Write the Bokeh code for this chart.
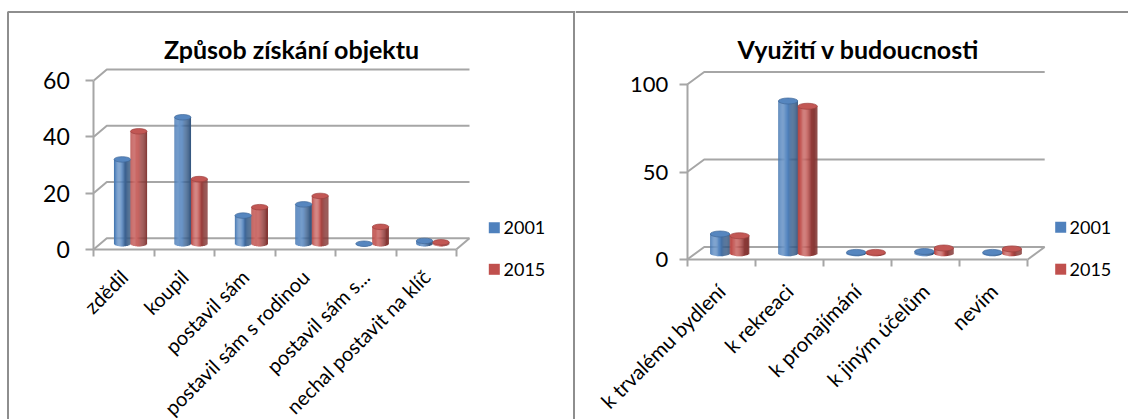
import math
import numpy as np
from bokeh.plotting import figure
from bokeh.layouts import row
from bokeh.models import LinearAxis, FixedTicker, Range1d, ColumnDataSource
from bokeh.core.properties import value
from bokeh.embed import file_html
from bokeh.resources import INLINE

# ---- data -------------------------------------------------------------
series_names = ["2001", "2015"]
series_colors = ["#4F81BD", "#C0504D"]

acq_title = "Způsob získání objektu"
acq_categories = ["zdědil", "koupil", "postavil sám", "postavil sám s rodinou",
                  "postavil sám s...", "nechal postavit na klíč"]
acq_2001 = [30, 45, 10, 14, 0, 1]
acq_2015 = [40, 23, 13, 17, 6, 0.5]
acq_ticks = [0, 20, 40, 60]

use_title = "Využití v budoucnosti"
use_categories = ["k trvalému bydlení", "k rekreaci", "k pronajímání",
                  "k jiným účelům", "nevím"]
use_2001 = [11, 87, 0.5, 1, 0.5]
use_2015 = [10, 84, 0.5, 3, 2.5]
use_ticks = [0, 50, 100]

# ---- styling ----------------------------------------------------------
FONT = "Lato"
H = 419
GRID = "#A6A6A6"
FRAME = "#8E8E8E"


def to_rgb(h):
    h = h.lstrip("#")
    return np.array([int(h[i:i + 2], 16) for i in (0, 2, 4)], dtype=float)


def shade(h, k):
    c = to_rgb(h)
    if k < 1:
        c = c * k
    else:
        c = c + (255 - c) * (k - 1)
    c = np.clip(c, 0, 255).astype(int)
    return "#%02x%02x%02x" % tuple(c)


def cylinder_profile(u):
    # brightness across a cylinder face, highlight left of centre
    return 0.74 + 0.40 * np.exp(-((u + 0.38) / 0.55) ** 2) - 0.06 * u


def build(title, categories, values, ticks, g):
    W = g["width"]
    n = len(categories)
    x0, cw, y0, ppu = g["x0"], g["cw"], g["y0"], g["ppu"]

    def px2x(px):
        return (px - x0) / cw

    def py2y(py):
        return (y0 - py) / ppu

    p = figure(width=W, height=H,
               x_range=Range1d(px2x(0), px2x(W)), y_range=Range1d(py2y(H), py2y(0)),
               x_axis_type=None, y_axis_type=None, title=None,
               toolbar_location=None, output_backend="svg", min_border=0,
               outline_line_color=None, background_fill_color="white",
               border_fill_color="white")

    dxu = g["dx"] / cw
    dyu = g["dy"] / ppu

    # back wall gridlines with their depth connectors
    p.multi_line(xs=[[0, dxu, n + dxu] for _ in ticks],
                 ys=[[t, t + dyu, t + dyu] for t in ticks],
                 line_color=GRID, line_width=2)
    # right edge of the floor
    p.segment(x0=[n], y0=[0], x1=[n + dxu], y1=[dyu], line_color=GRID, line_width=2)

    # cylinders
    base = dyu / 2
    bw = g["bar_px"] / cw
    cap_half = g["cap_px"] / 2 / ppu
    nstrip = 18
    u = (np.arange(nstrip) + 0.5) / nstrip * 2 - 1
    strips = dict(x=[], top=[], bottom=[], color=[])
    caps = dict(x=[], y=[], fill=[], line=[])
    for si, vals in enumerate(values):
        col = series_colors[si]
        for ci, v in enumerate(vals):
            cx = ci + 0.5 + dxu / 2 + (si - 0.5) * bw
            for uu in u:
                strips["x"].append(cx + uu * bw / 2)
                strips["top"].append(base + v)
                strips["bottom"].append(base - cap_half * math.sqrt(1 - uu * uu))
                strips["color"].append(shade(col, cylinder_profile(uu)))
            caps["x"].append(cx)
            caps["y"].append(base + v)
            caps["fill"].append(shade(col, 1.04))
            caps["line"].append(shade(col, 0.82))
    p.vbar(x="x", top="top", bottom="bottom", width=bw / nstrip * 1.15,
           fill_color="color", line_color=None, source=ColumnDataSource(strips))
    p.ellipse(x="x", y="y", width=bw, height=g["cap_px"], height_units="screen",
              fill_color="fill", line_color="line", line_width=0.7,
              source=ColumnDataSource(caps))

    # value axis
    yax = LinearAxis(fixed_location=0, bounds=(0, ticks[-1]),
                     ticker=FixedTicker(ticks=ticks, minor_ticks=[]))
    yax.axis_line_color = GRID
    yax.axis_line_width = 2
    yax.major_tick_line_color = GRID
    yax.major_tick_line_width = 2
    yax.major_tick_out = 8
    yax.major_tick_in = 0
    yax.minor_tick_line_color = None
    yax.major_label_text_font = FONT
    yax.major_label_text_font_size = g["ylab_size"]
    yax.major_label_text_color = "black"
    yax.major_label_standoff = g["ylab_standoff"]
    p.add_layout(yax, "left")

    # category axis
    centers = [i + 0.5 for i in range(n)]
    xax = LinearAxis(fixed_location=0, bounds=(0, n),
                     ticker=FixedTicker(ticks=centers, minor_ticks=list(range(n + 1))))
    xax.major_label_overrides = {c: lab for c, lab in zip(centers, categories)}
    xax.axis_line_color = GRID
    xax.axis_line_width = 2
    xax.major_tick_line_color = None
    xax.minor_tick_line_color = GRID
    xax.minor_tick_line_width = 2
    xax.minor_tick_out = 7
    xax.minor_tick_in = 0
    xax.major_label_orientation = math.pi / 4
    xax.major_label_text_font = FONT
    xax.major_label_text_font_size = g["xlab_size"]
    xax.major_label_text_color = "black"
    xax.major_label_standoff = g["xlab_standoff"]
    p.add_layout(xax, "below")

    # title
    p.text(x=[px2x(g["title_cx"])], y=[py2y(g["title_mid"])], text=[title],
           text_font=value(FONT), text_font_style="bold",
           text_font_size=g["title_size"], text_align="center",
           text_baseline="middle", text_color="black")

    # legend
    ly = [py2y(v) for v in g["legend_y"]]
    p.scatter(x=[px2x(g["legend_sq_x"])] * 2, y=ly, marker="square", size=11,
              fill_color=series_colors, line_color=None)
    p.text(x=[px2x(g["legend_text_x"])] * 2, y=ly, text=series_names,
           text_font=value(FONT), text_font_size="18px", text_align="left",
           text_baseline="middle", text_color="black")

    # frame lines of the chart area
    fx = [[px2x(a) for a, _ in seg] for seg in g["frame"]]
    fy = [[py2y(b) for _, b in seg] for seg in g["frame"]]
    p.multi_line(xs=fx, ys=fy, line_color=FRAME, line_width=2)
    return p


LW = 575
left = build(acq_title, acq_categories, [acq_2001, acq_2015], acq_ticks, dict(
    width=LW, x0=93.3, cw=60.45, y0=248.7, ppu=56.2 / 20, dx=13, dy=11,
    bar_px=16.5, cap_px=5.5, ylab_size="23px", ylab_standoff=16,
    xlab_size="20px", xlab_standoff=17,
    title_cx=291, title_mid=48, title_size="25px",
    legend_sq_x=493.8, legend_y=[227.2, 268.8], legend_text_x=503,
    frame=[[(7.5, 419), (7.5, 11.5), (LW, 11.5)], [(573.5, 11.5), (573.5, 419)]]))

RW = 1128 - LW
right = build(use_title, use_categories, [use_2001, use_2015], use_ticks, dict(
    width=RW, x0=686.7 - LW, cw=68.1, y0=259, ppu=87.5 / 50, dx=17, dy=12.5,
    bar_px=19.5, cap_px=6, ylab_size="22px", ylab_standoff=11,
    xlab_size="20.5px", xlab_standoff=21,
    title_cx=858 - LW, title_mid=48, title_size="25px",
    legend_sq_x=1060.2 - LW, legend_y=[226.7, 268.7], legend_text_x=1069 - LW,
    frame=[[(0, 11.5), (RW, 11.5)]]))

layout = row(left, right, spacing=0)
open("out.html", "w").write(file_html(layout, INLINE))
